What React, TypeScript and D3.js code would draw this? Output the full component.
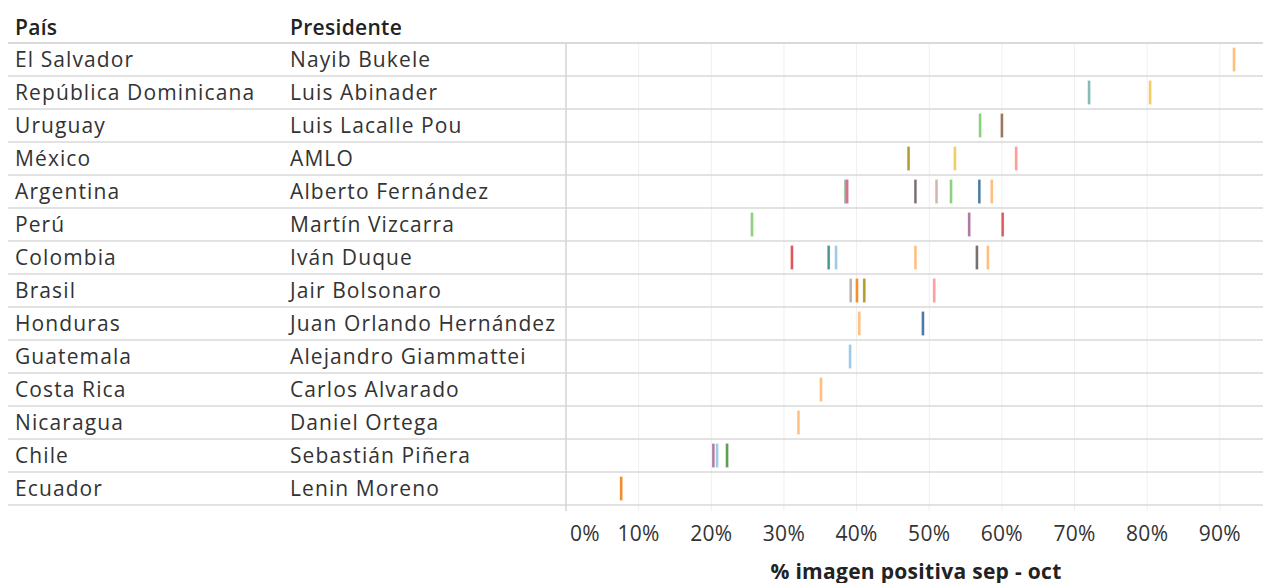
import React from 'react';
import * as d3 from 'd3';

const paises = [
  'El Salvador', 'República Dominicana', 'Uruguay', 'México', 'Argentina', 'Perú', 'Colombia',
  'Brasil', 'Honduras', 'Guatemala', 'Costa Rica', 'Nicaragua', 'Chile', 'Ecuador',
];

const presidentes = [
  'Nayib Bukele', 'Luis Abinader', 'Luis Lacalle Pou', 'AMLO', 'Alberto Fernández', 'Martín Vizcarra',
  'Iván Duque', 'Jair Bolsonaro', 'Juan Orlando Hernández', 'Alejandro Giammattei', 'Carlos Alvarado',
  'Daniel Ortega', 'Sebastián Piñera', 'Lenin Moreno',
];

// [país, % imagen positiva, serie]
const mediciones: [string, number, string][] = [
  ['El Salvador', 0.9195, 'naranjaClaro'],
  ['República Dominicana', 0.72, 'verdeAzulClaro'],
  ['República Dominicana', 0.804, 'amarillo'],
  ['Uruguay', 0.57, 'verdeClaro'],
  ['Uruguay', 0.6, 'marron'],
  ['México', 0.4715, 'oliva'],
  ['México', 0.5353, 'amarillo'],
  ['México', 0.6197, 'rosa'],
  ['Argentina', 0.385, 'verde'],
  ['Argentina', 0.387, 'magenta'],
  ['Argentina', 0.481, 'gris'],
  ['Argentina', 0.51, 'canela'],
  ['Argentina', 0.53, 'verdeClaro'],
  ['Argentina', 0.569, 'azul'],
  ['Argentina', 0.586, 'naranjaClaro'],
  ['Perú', 0.256, 'verdeClaro'],
  ['Perú', 0.555, 'morado'],
  ['Perú', 0.601, 'rojo'],
  ['Colombia', 0.311, 'rojo'],
  ['Colombia', 0.3615, 'verdeAzul'],
  ['Colombia', 0.3717, 'azulClaro'],
  ['Colombia', 0.481, 'naranjaClaro'],
  ['Colombia', 0.5656, 'gris'],
  ['Colombia', 0.5807, 'naranjaClaro'],
  ['Brasil', 0.3918, 'grisClaro'],
  ['Brasil', 0.4005, 'naranja'],
  ['Brasil', 0.4106, 'oliva'],
  ['Brasil', 0.5069, 'rosa'],
  ['Honduras', 0.4037, 'naranjaClaro'],
  ['Honduras', 0.4913, 'azul'],
  ['Guatemala', 0.391, 'azulClaro'],
  ['Costa Rica', 0.351, 'naranjaClaro'],
  ['Nicaragua', 0.32, 'naranjaClaro'],
  ['Chile', 0.2029, 'morado'],
  ['Chile', 0.208, 'azulClaro'],
  ['Chile', 0.2217, 'verde'],
  ['Ecuador', 0.076, 'naranja'],
];

const ticks = [0, 0.1, 0.2, 0.3, 0.4, 0.5, 0.6, 0.7, 0.8, 0.9];

const colores: Record<string, string> = {
  azul: '#4e79a7', azulClaro: '#a0cbe8', naranja: '#f28e2b', naranjaClaro: '#ffbe7d',
  verde: '#59a14f', verdeClaro: '#8cd17d', oliva: '#b6992d', amarillo: '#f1ce63',
  verdeAzul: '#499894', verdeAzulClaro: '#86bcb6', rojo: '#e15759', rosa: '#ff9d9a',
  gris: '#79706e', grisClaro: '#bab0ac', magenta: '#d37295', morado: '#b07aa1',
  marron: '#9d7660', canela: '#d7b5a6',
};

const W = 1263;
const H = 583;
const FONT = '"Open Sans", sans-serif';

export default function App() {
  const paneLeft = 566;
  const top = 43;
  const rowH = 33;
  const bottom = top + rowH * paises.length;

  const x = d3.scaleLinear().domain([0, 1]).range([paneLeft, paneLeft + 726.5]);
  const y = d3.scaleBand().domain(paises).range([top, bottom]);

  return (
    <div style={{ position: 'fixed', left: 0, top: 0 }}>
      <svg width={W} height={H} style={{ display: 'block', background: '#fff' }} fontFamily={FONT}>
        {/* gridlines */}
        {ticks.filter(t => t > 0).map(t => (
          <line key={t} x1={x(t)} x2={x(t)} y1={top} y2={bottom + 6} stroke="#efefef" strokeWidth={1} />
        ))}

        {/* row separators */}
        {paises.map(p => (
          <line key={p} x1={8} x2={W} y1={(y(p) as number) + rowH} y2={(y(p) as number) + rowH}
            stroke="#d9d9d9" strokeWidth={1.5} />
        ))}
        <line x1={8} x2={W} y1={top} y2={top} stroke="#d9d9d9" strokeWidth={2} />
        <line x1={paneLeft} x2={paneLeft} y1={top} y2={bottom + 6} stroke="#d4d4d4" strokeWidth={1.5} />

        {/* headers */}
        <text x={15} y={35} fontSize={21} fontWeight={600} letterSpacing={0.3} fill="#222">País</text>
        <text x={290} y={35} fontSize={21} fontWeight={600} letterSpacing={0.3} fill="#222">Presidente</text>

        {/* row labels */}
        {paises.map((p, i) => (
          <g key={p} transform={`translate(0,${(y(p) as number) + rowH / 2})`}>
            <text x={15} dy="0.36em" fontSize={21} letterSpacing={1.1} fill="#333">{p}</text>
            <text x={290} dy="0.36em" fontSize={21} letterSpacing={1.1} fill="#333">{presidentes[i]}</text>
          </g>
        ))}

        {/* tick marks */}
        {mediciones.map(([p, v, s], i) => (
          <rect key={i} x={x(v) - 1.4} width={2.8} y={(y(p) as number) + 4.5} height={24}
            fill={colores[s]} stroke="#fff" strokeWidth={0.4} strokeOpacity={0.6} />
        ))}

        {/* axis labels */}
        {ticks.map(t => (
          <text key={t} x={t === 0 ? 570 : x(t)} y={541} textAnchor={t === 0 ? 'start' : 'middle'}
            fontSize={21} letterSpacing={0.3} fill="#333">
            {d3.format('.0%')(t)}
          </text>
        ))}
        <text x={916} y={579} textAnchor="middle" fontSize={21} fontWeight={700} letterSpacing={0.3} fill="#222">
          % imagen positiva sep - oct
        </text>
      </svg>
    </div>
  );
}
